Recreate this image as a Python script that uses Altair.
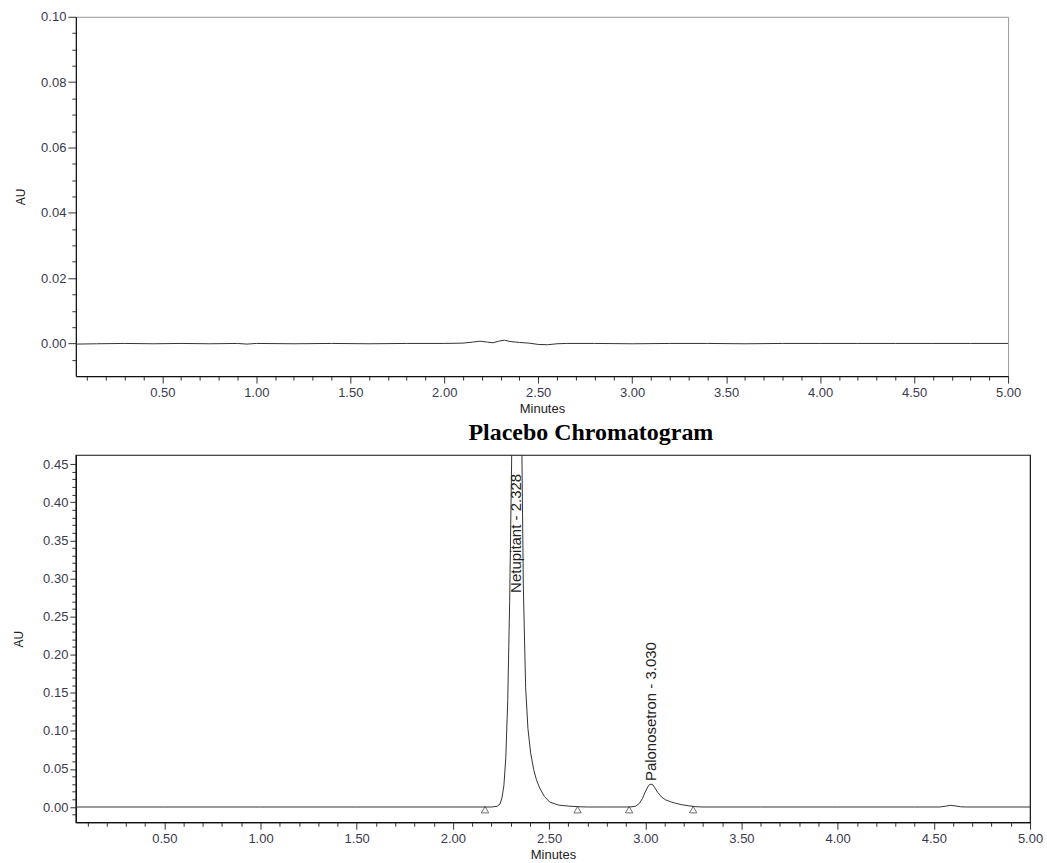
import altair as alt
import pandas as pd

# ---------------- data ----------------
# Placebo chromatogram (top panel)
placebo_min = [0.04, 0.15, 0.30, 0.45, 0.60, 0.75, 0.90, 0.95, 1.00, 1.20, 1.40, 1.60,
               1.80, 2.00, 2.10, 2.15, 2.19, 2.23, 2.26, 2.29, 2.32, 2.35, 2.40, 2.45,
               2.50, 2.55, 2.60, 2.65, 2.80, 3.00, 3.20, 3.40, 3.60, 3.80, 4.00, 4.20,
               4.40, 4.60, 4.80, 5.00]
placebo_au = [-0.0002, -0.0001, 0.0, -0.0001, 0.0, -0.0001, 0.0, -0.0002, 0.0, -0.0001,
              0.0, -0.0001, 0.0, 0.0, 0.0001, 0.0004, 0.0007, 0.0004, 0.0002, 0.0007,
              0.0010, 0.0006, 0.0003, 0.0001, -0.0003, -0.0004, -0.0001, 0.0, 0.0,
              -0.0001, 0.0, 0.0, -0.0001, 0.0, 0.0, 0.0, 0.0, 0.0, 0.0, 0.0]

# Sample chromatogram (bottom panel)
sample_min = [0.04, 0.50, 1.00, 1.50, 2.00, 2.20, 2.23, 2.245, 2.255, 2.265, 2.275, 2.285,
              2.295, 2.305, 2.315, 2.322, 2.328, 2.335, 2.345, 2.355, 2.366, 2.378, 2.39,
              2.404, 2.42, 2.435, 2.451, 2.475, 2.503, 2.55, 2.60, 2.65, 2.70, 2.80, 2.92,
              2.95, 2.97, 2.985, 2.995, 3.01, 3.02, 3.03, 3.04, 3.05, 3.065, 3.085, 3.105,
              3.13, 3.157, 3.19, 3.228, 3.26, 3.30, 3.60, 4.00, 4.40, 4.53, 4.56, 4.585,
              4.61, 4.64, 4.67, 5.00]
sample_au = [0.0, 0.0, 0.0, 0.0, 0.0, 0.0, 0.001, 0.004, 0.012, 0.028, 0.065, 0.14,
             0.27, 0.45, 0.68, 0.85, 0.93, 0.91, 0.80, 0.55, 0.29, 0.157, 0.103,
             0.071, 0.049, 0.035, 0.025, 0.014, 0.0065, 0.0025, 0.0012, 0.0004, 0.0, 0.0, 0.0,
             0.001, 0.005, 0.011, 0.017, 0.025, 0.029, 0.030, 0.029, 0.025, 0.019, 0.013, 0.0095,
             0.007, 0.005, 0.003, 0.0015, 0.0005, 0.0, 0.0, 0.0, 0.0, 0.0, 0.001, 0.0022,
             0.0015, 0.0003, 0.0, 0.0]

peak_names = ["Netupitant - 2.328", "Palonosetron - 3.030"]
peak_label_min = [2.328, 3.030]
peak_label_au = [0.281, 0.034]

marker_min = [2.167, 2.648, 2.916, 3.249]
marker_au = [-0.0035, -0.0035, -0.0035, -0.0035]

title_text = "Placebo Chromatogram"

# ---------------- axes ----------------
x_ticks = [round(0.1 * i, 1) for i in range(1, 51)]
top_y_ticks = [round(0.005 * i, 3) for i in range(-1, 21)]
bot_y_ticks = [round(0.01 * i, 2) for i in range(-1, 46)]

x_major = "abs(datum.value*2 - round(datum.value*2)) < 0.001"
top_major = "abs(datum.value*50 - round(datum.value*50)) < 0.001"
bot_major = "abs(datum.value*20 - round(datum.value*20)) < 0.001 && datum.value > -0.001"

FONT = "Liberation Sans"
LABEL_COLOR = "#3a3a4e"


def x_axis():
    return alt.Axis(
        values=x_ticks,
        labelExpr=f"({x_major}) ? format(datum.value, '.2f') : ''",
        tickSize={"condition": {"test": x_major, "value": 7}, "value": 4},
        labelOverlap=False, labelFlush=False, labelBound=False,
        grid=False, domainColor="#111", domainWidth=1.2, tickColor="#333",
        labelFont=FONT, labelFontSize=13, labelColor=LABEL_COLOR, labelPadding=3,
        title="Minutes", titleFont=FONT, titleFontSize=13, titleFontWeight="normal",
        titleColor="#222", titlePadding=3,
    )


def y_axis(ticks, major, big, small, tpad):
    return alt.Axis(
        values=ticks,
        labelExpr=f"({major}) ? format(datum.value, '.2f') : ''",
        tickSize={"condition": {"test": major, "value": big}, "value": small},
        labelOverlap=False, labelFlush=False, labelBound=False,
        grid=False, domainColor="#111", domainWidth=1.2, tickColor="#333",
        labelFont=FONT, labelFontSize=13, labelColor=LABEL_COLOR, labelPadding=2,
        title="AU", titleFont=FONT, titleFontSize=12, titleFontWeight="normal",
        titleColor="#222", titlePadding=tpad,
    )


# ---------------- top panel ----------------
top_df = pd.DataFrame({"t": placebo_min, "au": placebo_au})
top = (
    alt.Chart(top_df)
    .mark_line(color="#333", strokeWidth=1, clip=True)
    .encode(
        x=alt.X("t:Q", scale=alt.Scale(domain=[0.04, 5.0], nice=False, zero=False), axis=x_axis()),
        y=alt.Y("au:Q", scale=alt.Scale(domain=[-0.01, 0.10], nice=False, zero=False),
                axis=y_axis(top_y_ticks, top_major, 8, 4, 13)),
    )
    .properties(
        width=934, height=360,
        view=alt.ViewBackground(stroke="#999", strokeWidth=1),
        title=alt.TitleParams(title_text, orient="bottom", anchor="middle", font="Liberation Serif",
                              fontSize=24, fontWeight="bold", color="#000", dx=49, offset=6),
    )
)

# ---------------- bottom panel ----------------
bx = alt.X("t:Q", scale=alt.Scale(domain=[0.04, 5.0], nice=False, zero=False), axis=x_axis())
by = alt.Y("au:Q", scale=alt.Scale(domain=[-0.02, 0.462], nice=False, zero=False),
           axis=y_axis(bot_y_ticks, bot_major, 6, 4, 17))

sample_df = pd.DataFrame({"t": sample_min, "au": sample_au})
label_df = pd.DataFrame({"t": peak_label_min, "au": peak_label_au, "name": peak_names})
marker_df = pd.DataFrame({"t": marker_min, "au": marker_au})

line_b = alt.Chart(sample_df).mark_line(color="#333", strokeWidth=1, clip=True).encode(x=bx, y=by)
text_b = alt.Chart(label_df).mark_text(
    angle=270, align="left", baseline="middle", font=FONT, fontSize=15, color="#222"
).encode(x=bx, y=by, text="name:N")
mark_b = alt.Chart(marker_df).mark_point(
    shape="triangle-up", filled=False, size=55, color="#333", strokeWidth=1
).encode(x=bx, y=by)

bottom = alt.layer(line_b, mark_b, text_b).properties(
    width=956, height=368,
    view=alt.ViewBackground(stroke="#111", strokeWidth=1.2),
)

chart = alt.vconcat(top, bottom, spacing=8).properties(
    padding={"left": 12, "top": 9, "right": 3, "bottom": 2}
).configure_view(strokeWidth=1)

chart.save("out.html", embed_options={"renderer": "svg", "actions": False})
